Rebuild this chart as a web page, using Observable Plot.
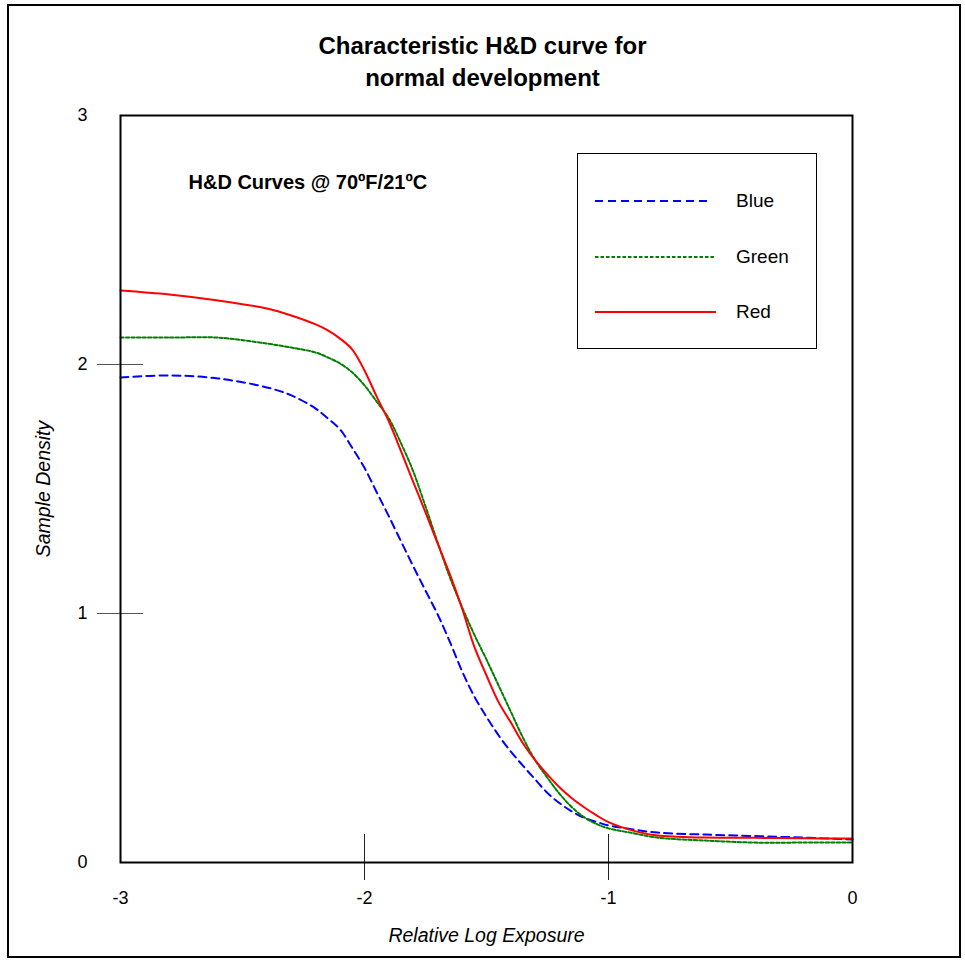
<!DOCTYPE html>
<html><head><meta charset="utf-8">
<script src="https://cdn.jsdelivr.net/npm/d3@7"></script>
<script src="https://cdn.jsdelivr.net/npm/@observablehq/plot@0.6"></script>
<style>
body{margin:0;background:#fff;font-family:"Liberation Sans",Arial,sans-serif;}
#wrap{position:relative;width:965px;height:964px;overflow:hidden;}
#outer{position:absolute;left:7px;top:4px;width:954px;height:954px;box-sizing:border-box;border:2px solid #000;pointer-events:none;}
#title{position:absolute;top:30px;left:0;width:965px;text-align:center;font-weight:bold;font-size:24px;line-height:32px;color:#000;}
#chart{position:absolute;left:0;top:0;}
#legend{position:absolute;left:577px;top:153px;width:240px;height:196px;box-sizing:border-box;border:1.5px solid #000;background:#fff;}
.lab{position:absolute;left:158px;font-size:19px;line-height:20px;color:#000;}
</style></head>
<body>
<div id="wrap">
  <div id="chart"></div>
  <div id="title">Characteristic H&amp;D curve for<br>normal development</div>
  <div id="legend"></div>
  <div id="outer"></div>
</div>
<script>
// Relative log exposure samples
const logExposure = [-3, -2.8, -2.6, -2.4, -2.3, -2.2, -2.15, -2.1, -2.05, -2.0, -1.95, -1.9, -1.85, -1.8, -1.75, -1.7, -1.65, -1.6, -1.55, -1.5, -1.45, -1.4, -1.35, -1.3, -1.25, -1.2, -1.15, -1.1, -1.05, -1.0, -0.9, -0.8, -0.6, -0.4, -0.2, 0];
const blueDensity = [1.948, 1.956, 1.944, 1.908, 1.876, 1.823, 1.783, 1.739, 1.665, 1.585, 1.487, 1.390, 1.289, 1.189, 1.092, 0.996, 0.886, 0.768, 0.667, 0.585, 0.51, 0.445, 0.388, 0.333, 0.279, 0.238, 0.205, 0.18, 0.163, 0.149, 0.133, 0.120, 0.112, 0.106, 0.100, 0.092];
const greenDensity = [2.108, 2.108, 2.108, 2.084, 2.068, 2.048, 2.028, 2.004, 1.968, 1.916, 1.851, 1.783, 1.683, 1.570, 1.430, 1.285, 1.145, 1.025, 0.915, 0.815, 0.71, 0.605, 0.50, 0.41, 0.34, 0.275, 0.222, 0.182, 0.155, 0.137, 0.118, 0.100, 0.088, 0.080, 0.080, 0.080];
const redDensity = [2.297, 2.281, 2.257, 2.225, 2.197, 2.161, 2.137, 2.104, 2.060, 1.976, 1.871, 1.771, 1.651, 1.528, 1.406, 1.281, 1.157, 1.020, 0.867, 0.751, 0.643, 0.562, 0.478, 0.410, 0.353, 0.301, 0.258, 0.222, 0.190, 0.162, 0.128, 0.108, 0.100, 0.099, 0.097, 0.096];

const seriesNames = ["Blue", "Green", "Red"];
const seriesColors = ["#0000ff", "#008000", "#ff0000"];
const seriesDash = ["8,5", "3.5,2", null];
const seriesValues = [blueDensity, greenDensity, redDensity];

const xTicks = [-3, -2, -1, 0];
const yTicks = [0, 1, 2, 3];
const xTickMarks = [-2, -1];
const yTickMarks = [1, 2];

const W = 965, H = 964;
const mL = 120, mR = 113, mT = 115, mB = 102;
const pw = W - mL - mR, ph = H - mT - mB;

const lineMarks = seriesNames.map((name, k) => {
  const rows = logExposure.map((x, i) => ({x, y: seriesValues[k][i]}));
  return Plot.line(rows, {x: "x", y: "y", stroke: seriesColors[k], strokeWidth: 2,
    strokeDasharray: seriesDash[k] || undefined, curve: "catmull-rom"});
});

const chart = Plot.plot({
  width: W, height: H,
  marginLeft: mL, marginRight: mR, marginTop: mT, marginBottom: mB,
  style: {fontFamily: "'Liberation Sans', Arial, sans-serif", fontSize: "18px", background: "transparent", color: "#000"},
  x: {domain: [-3, 0]},
  y: {domain: [0, 3]},
  marks: [
    ...lineMarks,
    Plot.tickY(yTickMarks, {y: d => d, stroke: "#555", strokeWidth: 1, insetRight: pw - 46, dx: -23}),
    Plot.tickX(xTickMarks, {x: d => d, stroke: "#222", strokeWidth: 1, insetTop: ph - 46, dy: 18}),
    Plot.frame({stroke: "#000", strokeWidth: 2}),
    Plot.axisX({ticks: xTicks, tickSize: 0, tickPadding: 29, fontSize: 18, tickFormat: d => String(d), label: null}),
    Plot.axisY({ticks: yTicks, tickSize: 0, tickPadding: 33, fontSize: 18, tickFormat: d => String(d), label: null}),
    Plot.text(["Relative Log Exposure"], {text: d => d, frameAnchor: "bottom", lineAnchor: "middle", dy: 73, fontStyle: "italic", fontSize: 19.5}),
    Plot.text(["Sample Density"], {text: d => d, frameAnchor: "left", textAnchor: "middle", lineAnchor: "middle", rotate: -90, dx: -77, fontStyle: "italic", fontSize: 19.5}),
    Plot.text(["H&D Curves @ 70ºF/21ºC"], {text: d => d, frameAnchor: "top-left", textAnchor: "start", lineAnchor: "middle", dx: 68, dy: 67, fontWeight: "bold", fontSize: 20})
  ]
});
document.getElementById("chart").appendChild(chart);

// legend
const legend = document.getElementById("legend");
const rowY = [47, 103, 158];
seriesNames.forEach((name, k) => {
  const svgNS = "http://www.w3.org/2000/svg";
  const svg = document.createElementNS(svgNS, "svg");
  svg.setAttribute("width", 140); svg.setAttribute("height", 10);
  svg.style.position = "absolute"; svg.style.left = "0px"; svg.style.top = (rowY[k] - 5) + "px";
  const ln = document.createElementNS(svgNS, "line");
  ln.setAttribute("x1", 17); ln.setAttribute("x2", k === 0 ? 129 : 138);
  ln.setAttribute("y1", 5); ln.setAttribute("y2", 5);
  ln.setAttribute("stroke", seriesColors[k]); ln.setAttribute("stroke-width", 2);
  if (seriesDash[k]) ln.setAttribute("stroke-dasharray", seriesDash[k]);
  svg.appendChild(ln);
  legend.appendChild(svg);
  const lab = document.createElement("div");
  lab.className = "lab"; lab.textContent = name;
  lab.style.top = (rowY[k] - 10) + "px";
  legend.appendChild(lab);
});
</script>
</body></html>
